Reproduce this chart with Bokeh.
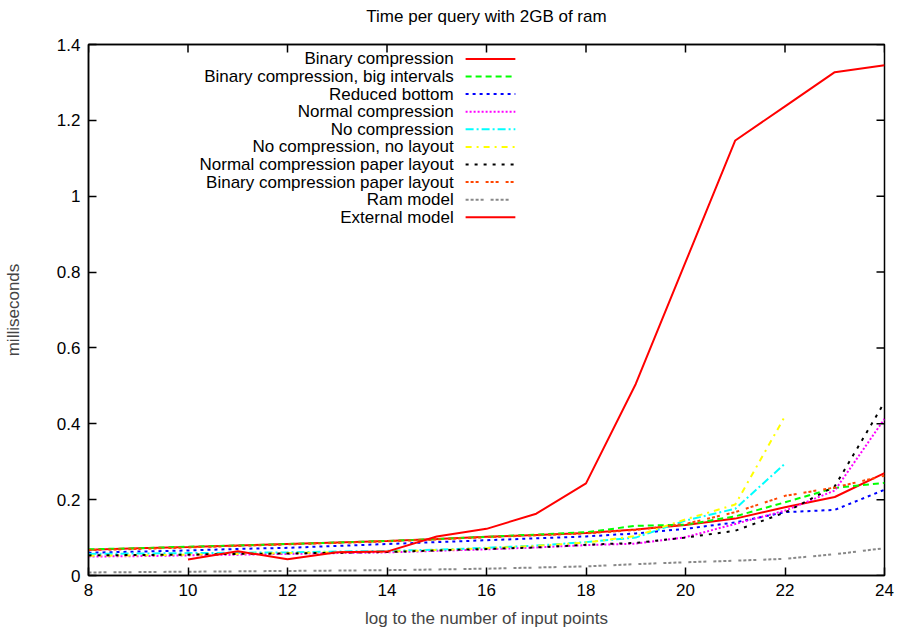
from bokeh.plotting import figure
from bokeh.models import Range1d, FixedTicker, Label, Arrow, LinearAxis
from bokeh.embed import file_html
from bokeh.resources import INLINE

# ---------------- data ----------------
x_log = [8, 9, 10, 11, 12, 13, 14, 15, 16, 17, 18, 19, 20, 21, 22, 23, 24]
x_short = [8, 9, 10, 11, 12, 13, 14, 15, 16, 17, 18, 19, 20, 21, 22]
x_ext = [10, 11, 12, 13, 14, 15, 16, 17, 18, 19, 20, 21, 22, 23, 24]

binary_compression = [0.068, 0.072, 0.075, 0.079, 0.083, 0.087, 0.091, 0.096, 0.102,
                      0.107, 0.112, 0.121, 0.133, 0.150, 0.180, 0.207, 0.270]
binary_big_intervals = [0.069, 0.072, 0.076, 0.079, 0.083, 0.087, 0.091, 0.096, 0.102,
                        0.108, 0.114, 0.131, 0.134, 0.156, 0.193, 0.231, 0.244]
reduced_bottom = [0.060, 0.063, 0.066, 0.070, 0.073, 0.078, 0.083, 0.088, 0.093,
                  0.098, 0.103, 0.111, 0.123, 0.140, 0.167, 0.173, 0.226]
normal_compression = [0.050, 0.051, 0.053, 0.055, 0.057, 0.059, 0.061, 0.065, 0.069,
                      0.074, 0.080, 0.084, 0.101, 0.136, 0.171, 0.224, 0.413]
no_compression = [0.057, 0.058, 0.059, 0.060, 0.061, 0.063, 0.065, 0.068, 0.073,
                  0.079, 0.088, 0.100, 0.145, 0.176, 0.295]
no_compression_no_layout = [0.052, 0.053, 0.055, 0.057, 0.059, 0.061, 0.063, 0.067, 0.072,
                            0.078, 0.087, 0.104, 0.148, 0.187, 0.420]
normal_paper_layout = [0.053, 0.054, 0.055, 0.057, 0.058, 0.060, 0.062, 0.066, 0.070,
                       0.074, 0.081, 0.086, 0.100, 0.118, 0.166, 0.235, 0.457]
binary_paper_layout = [0.067, 0.070, 0.074, 0.078, 0.082, 0.086, 0.090, 0.095, 0.101,
                       0.106, 0.111, 0.120, 0.136, 0.167, 0.210, 0.232, 0.263]
ram_model = [0.008, 0.009, 0.010, 0.011, 0.012, 0.013, 0.014, 0.016, 0.018,
             0.021, 0.024, 0.030, 0.035, 0.039, 0.044, 0.056, 0.072]
external_model = [0.042, 0.064, 0.043, 0.061, 0.063, 0.103, 0.123, 0.163, 0.243,
                  0.505, 0.826, 1.147, 1.237, 1.327, 1.345]

x_ticks = [8, 10, 12, 14, 16, 18, 20, 22, 24]
y_ticks = [0, 0.2, 0.4, 0.6, 0.8, 1.0, 1.2, 1.4]
y_tick_labels = ["0", "0.2", "0.4", "0.6", "0.8", "1", "1.2", "1.4"]

series = [
    ("Binary compression", x_log, binary_compression, "#ff0000", "solid"),
    ("Binary compression, big intervals", x_log, binary_big_intervals, "#00ff00", "6 4"),
    ("Reduced bottom", x_log, reduced_bottom, "#0000ff", "3 4"),
    ("Normal compression", x_log, normal_compression, "#ff00ff", "2 2"),
    ("No compression", x_short, no_compression, "#00ffff", "8 3 2 3"),
    ("No compression, no layout", x_short, no_compression_no_layout, "#ffff00", "6 5 2 5"),
    ("Normal compression paper layout", x_log, normal_paper_layout, "#000000", "3 6"),
    ("Binary compression paper layout", x_log, binary_paper_layout, "#ff4500", "3 2 3 2 3 7"),
    ("Ram model", x_log, ram_model, "#888888", "3 2 3 2 3 2 3 7"),
    ("External model", x_ext, external_model, "#ff0000", "solid"),
]
title_text = "Time per query with 2GB of ram"

FONT = "Liberation Sans"
FS = "17px"
X_MIN, X_MAX = 8, 24
Y_MIN, Y_MAX = 0, 1.4
FRAME_W, FRAME_H = 796.0, 531.0

p = figure(width=898, height=630, output_backend="svg", toolbar_location=None,
           x_range=Range1d(X_MIN, X_MAX), y_range=Range1d(Y_MIN, Y_MAX),
           min_border_left=88, min_border_right=14, min_border_top=44, min_border_bottom=55)
p.background_fill_color = "white"
p.border_fill_color = "white"
p.outline_line_color = "black"
p.outline_line_width = 1.5
p.grid.visible = False

for ax in (p.xaxis[0], p.yaxis[0]):
    ax.major_tick_in = 8
    ax.major_tick_out = 0
    ax.minor_tick_in = 0
    ax.minor_tick_out = 0
    ax.axis_line_color = "black"
    ax.axis_line_width = 1.5
    ax.major_tick_line_width = 1.5
    ax.major_label_text_font = FONT
    ax.major_label_text_font_size = FS
    ax.major_label_text_color = "black"
    ax.major_label_standoff = 8
    ax.axis_label_text_font = FONT
    ax.axis_label_text_font_size = FS
    ax.axis_label_text_font_style = "normal"

p.xaxis.ticker = FixedTicker(ticks=x_ticks)
p.yaxis.ticker = FixedTicker(ticks=y_ticks)
p.yaxis.major_label_overrides = {t: s for t, s in zip(y_ticks, y_tick_labels)}
p.xaxis.axis_label = "log to the number of input points"
p.yaxis.axis_label = "milliseconds"
p.xaxis.axis_label_standoff = 10
p.yaxis.axis_label_standoff = 31

# title: label of a tick-less axis above the frame (centred over the frame)
top = LinearAxis(ticker=FixedTicker(ticks=[]), axis_label=title_text)
top.axis_line_color = "black"
top.axis_line_width = 1.5
top.major_tick_in = 0
top.major_tick_out = 0
top.minor_tick_in = 0
top.minor_tick_out = 0
top.major_label_standoff = 0
top.axis_label_standoff = 19
top.axis_label_text_font = FONT
top.axis_label_text_font_size = FS
top.axis_label_text_font_style = "normal"
top.axis_label_text_color = "black"
p.add_layout(top, "above")

# mirrored inward ticks on top and right edges (gnuplot style)
TICK_PX = 8
dy_tick = TICK_PX * (Y_MAX - Y_MIN) / FRAME_H
dx_tick = TICK_PX * (X_MAX - X_MIN) / FRAME_W
for t in x_ticks:
    p.add_layout(Arrow(end=None, x_start=t, y_start=Y_MAX, x_end=t, y_end=Y_MAX - dy_tick,
                       line_color="black", line_width=1.5))
for t in y_ticks:
    p.add_layout(Arrow(end=None, x_start=X_MAX, y_start=t, x_end=X_MAX - dx_tick, y_end=t,
                       line_color="black", line_width=1.5))

for name, xs, ys, color, dash in series:
    p.line(xs, ys, line_color=color, line_width=2, line_dash=dash)

# gnuplot-style key: text right-aligned, sample on its right
LEG_TEXT_X = 15.34
LEG_S0, LEG_S1 = 15.58, 16.58
LEG_Y0 = 1.362
LEG_DY = 0.0464
for i, (name, xs, ys, color, dash) in enumerate(series):
    yy = LEG_Y0 - i * LEG_DY
    p.add_layout(Label(x=LEG_TEXT_X, y=yy, text=name, text_align="right",
                       text_baseline="middle", text_font=FONT, text_font_size=FS,
                       text_color="black"))
    p.add_layout(Arrow(end=None, x_start=LEG_S0, y_start=yy, x_end=LEG_S1, y_end=yy,
                       line_color=color, line_width=2, line_dash=dash))

open("out.html", "w").write(file_html(p, INLINE))
